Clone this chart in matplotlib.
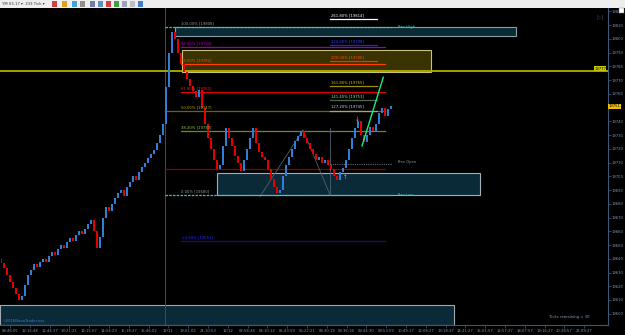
import numpy as np
import matplotlib
matplotlib.use("Agg")
import matplotlib.pyplot as plt
from matplotlib.patches import Rectangle

# ---------------- data ----------------
first_open = 19640
closes = [19637, 19633, 19628, 19623, 19619, 19614, 19610, 19613, 19621, 19628,
          19632, 19636, 19634, 19638, 19640, 19638, 19642, 19645, 19643, 19647,
          19650, 19648, 19652, 19655, 19653, 19657, 19660, 19658, 19662, 19665,
          19668, 19660, 19648, 19656, 19670, 19678, 19675, 19680, 19684, 19688,
          19690, 19686, 19692, 19696, 19700, 19697, 19703, 19707, 19710, 19713,
          19716, 19719, 19724, 19730, 19738, 19765, 19790, 19805, 19800, 19790,
          19782, 19776, 19771, 19766, 19762, 19758, 19763, 19750, 19738, 19728,
          19720, 19712, 19705, 19708, 19722, 19735, 19728, 19722, 19715, 19710,
          19704, 19712, 19720, 19728, 19735, 19724, 19718, 19714, 19712, 19705,
          19698, 19692, 19688, 19690, 19700, 19708, 19714, 19720, 19726, 19729,
          19733, 19728, 19724, 19720, 19716, 19712, 19714, 19710, 19712, 19708,
          19705, 19700, 19697, 19703, 19706, 19712, 19720, 19728, 19735, 19740,
          19730, 19725, 19730, 19736, 19733, 19738, 19746, 19750, 19744, 19749,
          19751]

price_ticks = list(range(19600, 19830, 10))
time_labels = ["08:46:05", "12:16:48", "12:44:37", "13:21:21", "14:15:07", "14:54:23",
               "15:18:27", "15:46:02", "12/11", "19:01:02", "21:10:53", "12/12",
               "02:58:28", "04:10:12", "05:43:59", "06:22:21", "08:30:19", "09:36:18",
               "09:44:30", "09:53:59", "10:49:17", "12:08:27", "13:18:37", "14:21:27",
               "15:01:57", "16:57:27", "18:07:57", "19:16:27", "20:28:57", "21:09:27"]

# retracement levels (left group)
retr_labels = ["100.00% [19808]", "88.60% [19794]", "78.60% [19782]", "61.80% [19761]",
               "50.00% [19747]", "38.20% [19733]", "0.00% [19680]", "-23.60% [19651]"]
retr_levels = [19808.7, 19794.0, 19781.8, 19761.2, 19747.4, 19732.8, 19686.5, 19652.8]
retr_text_col = ["#9a9a9a", "#c000c0", "#ff4a10", "#ff2020", "#b8a800", "#9acd32", "#9a9a9a", "#2a2aff"]
retr_line_col = [None, "#a000a0", "#ff4000", "#e00000", "#6e6400", "#6b8e23", None, "#10108a"]

# extension levels (right group)
ext_labels = ["261.80% [19814]", "224.00% [19798]", "200.00% [19786]", "161.80% [19765]",
              "141.40% [19753]", "127.20% [19745]"]
ext_levels = [19814.5, 19795.4, 19783.8, 19765.8, 19755.4, 19747.8]
ext_text_col = ["#ffffff", "#3a3aff", "#ff4a10", "#d8c000", "#90ee90", "#d0d0d0"]
ext_line_col = ["#ffffff", "#2020ff", "#ff3000", "#a08c00", "#4d6a4d", "#a0a0a0"]

prev_high, prev_low, prev_open = 19808.7, 19686.5, 19708.8
yellow_level = 19777
red_level = 19705.6
last_price = 19751

# ---------------- figure ----------------
W, H = 625, 335
fig = plt.figure(figsize=(W / 100, H / 100), dpi=100, facecolor="black")
ax_l, ax_r, ax_t, ax_b = 0, 607.7, 8, 325
ax = fig.add_axes([ax_l / W, 1 - ax_b / H, (ax_r - ax_l) / W, (ax_b - ax_t) / H])
ax.set_facecolor("black")
ax.set_xlim(0, ax_r)
ax.set_ylim(19591.8, 19822.5)

FS = 2.7
axis_col = "#3c5a78"
lab_col = "#7f98b4"

# boxes (x in chart pixels, y in price)
boxes = [
    (0, 454, 19592.0, 19606.4, "#0b2a38", "#a0a8b0"),
    (175, 516, 19802.0, 19808.7, "#0a2a35", "#8a9ca4"),
    (182, 431, 19776.2, 19792.2, "#3a3200", "#c8c080"),
    (217, 480, 19686.6, 19702.2, "#0b2a38", "#a0b0b8"),
]
for x0, x1, y0, y1, fc, ec in boxes:
    ax.add_patch(Rectangle((x0, y0), x1 - x0, y1 - y0, facecolor=fc, edgecolor=ec, lw=0.8, zorder=1))

# day separator
ax.axvline(165.5, color="#4a4a4a", lw=0.7, zorder=1.5)

# full-width yellow level
ax.axhline(yellow_level, color="#b4b000", lw=1.3, zorder=2)

# retracement lines & labels
for lab, lev, tc, lc in zip(retr_labels, retr_levels, retr_text_col, retr_line_col):
    if lc is not None:
        x0 = 165 if lab.startswith("50.00") else 181
        ax.plot([x0, 385], [lev, lev], color=lc, lw=0.9, zorder=2)
    ax.text(181, lev + 1.3, lab, color=tc, fontsize=FS, va="bottom", ha="left", zorder=5)

for lab, lev, tc, lc in zip(ext_labels, ext_levels, ext_text_col, ext_line_col):
    ax.plot([330, 377], [lev, lev], color=lc, lw=0.9, zorder=2)
    ax.text(331, lev + 1.3, lab, color=tc, fontsize=FS, va="bottom", ha="left", zorder=5)

ax.plot([165, 385], [red_level, red_level], color="#8b0000", lw=0.9, zorder=2)

# prev high / low / open
ax.plot([165, 392], [prev_high, prev_high], color="#30c8c8", lw=0.9, ls=(0, (2, 1)), zorder=3)
ax.plot([165, 392], [prev_low, prev_low], color="#30c8c8", lw=0.9, ls=(0, (2, 1)), zorder=3)
ax.plot([330, 392], [prev_open, prev_open], color="#606878", lw=0.8, ls=(0, (1, 1)), zorder=3)
ax.text(398, prev_high, "Prev.High", color="#30c8c8", fontsize=FS, va="center")
ax.text(398, prev_low, "Prev.Low", color="#30c8c8", fontsize=FS, va="center")
ax.text(398, prev_open + 1.5, "Prev.Open", color="#8a9098", fontsize=FS, va="center")

# zig-zag helper lines
ax.plot([260, 303, 330], [19685.2, 19733.8, 19686.5], color="#506070", lw=0.6, zorder=2.5)
ax.plot([330, 330], [19686.5, 19735.2], color="#506070", lw=0.6, zorder=2.5)

# candles
n = len(closes)
bx = 1.5 + 3 * np.arange(n)
opens = [first_open] + closes[:-1]
for x, o, c in zip(bx, opens, closes):
    col = "#2f7fd8" if c >= o else "#e80000"
    lo, hi = min(o, c), max(o, c)
    if hi - lo < 0.6:
        hi = lo + 0.6
    ax.add_patch(Rectangle((x - 1.0, lo), 2.0, hi - lo, facecolor=col, edgecolor="none", zorder=4))

# trend line
ax.plot([362, 383.3], [19722.1, 19772.1], color="#10f080", lw=1.0, zorder=6)
# arrows
ax.text(357, 19741.7, "↓", color="#ffb000", fontsize=4, ha="center", va="center", zorder=6)
ax.text(345, 19698.8, "↑", color="#40ff40", fontsize=4, ha="center", va="center", zorder=6)

# right price axis
for s in ["top", "left"]:
    ax.spines[s].set_visible(False)
ax.spines["right"].set_color(axis_col)
ax.spines["bottom"].set_color(axis_col)
ax.spines["right"].set_linewidth(0.8)
ax.spines["bottom"].set_linewidth(0.8)
ax.yaxis.tick_right()
ax.set_yticks(price_ticks)
# the 19750 label is hidden behind the current-price tag
ax.set_yticklabels(["" if t == 19750 else str(t) for t in price_ticks])
ax.tick_params(axis="y", colors=axis_col, labelcolor=lab_col, labelsize=FS, length=2, width=0.5, pad=1)

tick_pos = 10 + 19.8 * np.arange(len(time_labels))
ax.set_xticks(tick_pos)
ax.set_xticklabels(time_labels)
ax.tick_params(axis="x", colors=axis_col, labelcolor=lab_col, labelsize=FS, length=2, width=0.5, pad=1)

# price tags
ax.text(609, last_price, "19751", color="black", fontsize=FS, va="center", ha="left",
        bbox=dict(boxstyle="square,pad=0.15", fc="#f0c000", ec="none"), clip_on=False, zorder=10)
ax.text(606, yellow_level + 1.2, "19777", color="black", fontsize=FS, va="center", ha="right",
        bbox=dict(boxstyle="square,pad=0.1", fc="#c8c800", ec="none"), clip_on=False, zorder=10)

ax.text(590, 19597.5, "Ticks remaining = 30", color="#7fa0c0", fontsize=FS, ha="right", va="center")
ax.text(2, 19594.5, "\u00a92016NovaTrader.net", color="#4a78c0", fontsize=FS, ha="left", va="center")
ax.text(600, 19816, "\u25b7|", color="#3a5068", fontsize=4, ha="center", va="center")

# toolbar strip
fig.patches.append(Rectangle((0, 1 - 7.5 / H), 1, 7.5 / H, transform=fig.transFigure,
                             facecolor="#eeeeee", edgecolor="none"))
fig.text(2 / W, 1 - 3.8 / H, "YM 03-17 \u25be  233 Tick \u25be", fontsize=FS, color="#303030", va="center")
icon_cols = ["#d04040", "#e0a020", "#40a0e0", "#909090", "#7080a0", "#6090c0", "#d04040", "#40a040", "#a0a0c0", "#c0c0c0", "#4080d0"]
icon_x = [52, 62, 72, 80, 90, 98, 106, 114, 122, 130, 138]
for xi, ci in zip(icon_x, icon_cols):
    fig.patches.append(Rectangle((xi / W, 1 - 6.5 / H), 5 / W, 5 / H, transform=fig.transFigure,
                                 facecolor=ci, edgecolor="none"))
fig.patches.append(Rectangle((619 / W, 1 - 13 / H), 5 / W, 5 / H, transform=fig.transFigure,
                             facecolor="white", edgecolor="#808080", lw=0.3))

fig.savefig("out.png", dpi=100, facecolor="black")
